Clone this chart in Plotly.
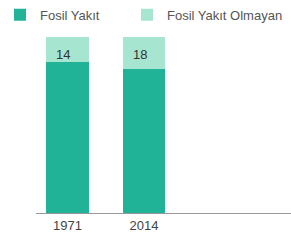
import plotly.graph_objects as go

years = ["1971", "2014"]
fossil = [86, 82]
non_fossil = [14, 18]
series_names = ["Fosil Yakıt", "Fosil Yakıt Olmayan"]
colors = ["#20b398", "#a6e5d0"]

xpos = list(range(len(years)))
fig = go.Figure()
fig.add_trace(go.Bar(x=xpos, y=fossil, name=series_names[0], marker_color=colors[0],
                     marker_line_width=0, width=0.56, legend="legend"))
fig.add_trace(go.Bar(x=xpos, y=non_fossil, name=series_names[1], marker_color=colors[1],
                     marker_line_width=0, width=0.56, legend="legend2"))

for i, v in enumerate(non_fossil):
    fig.add_annotation(x=i - 0.175, y=100 - 9.7, xref="x", yref="y", text=str(v),
                       showarrow=False, xanchor="left", yanchor="middle",
                       font=dict(family="Liberation Sans, Arial", size=13, color="#333"))

leg_common = dict(orientation="h", y=1.001, xanchor="left", yanchor="top",
                  itemwidth=30, font=dict(size=13, color="#555"),
                  bgcolor="rgba(0,0,0,0)")
fig.update_layout(
    barmode="stack",
    width=291, height=243,
    margin=dict(l=36, r=0, t=0, b=30, autoexpand=False),
    paper_bgcolor="white", plot_bgcolor="white",
    font=dict(family="Liberation Sans, Arial", size=13, color="#555"),
    showlegend=True,
    legend=dict(x=-36 / 255, **leg_common),
    legend2=dict(x=(127 - 36) / 255, **leg_common),
    xaxis=dict(range=[-0.41, 2.92], tickvals=xpos, ticktext=years, showgrid=False,
               zeroline=False, showline=True, linecolor="#999", linewidth=1,
               ticks="", tickfont=dict(size=13, color="#444")),
    yaxis=dict(range=[0, 100 * 213 / 176], visible=False, showgrid=False, zeroline=False),
)
fig.write_html("out.html", config={"displayModeBar": False},
               post_script="document.body.style.margin='0';")
